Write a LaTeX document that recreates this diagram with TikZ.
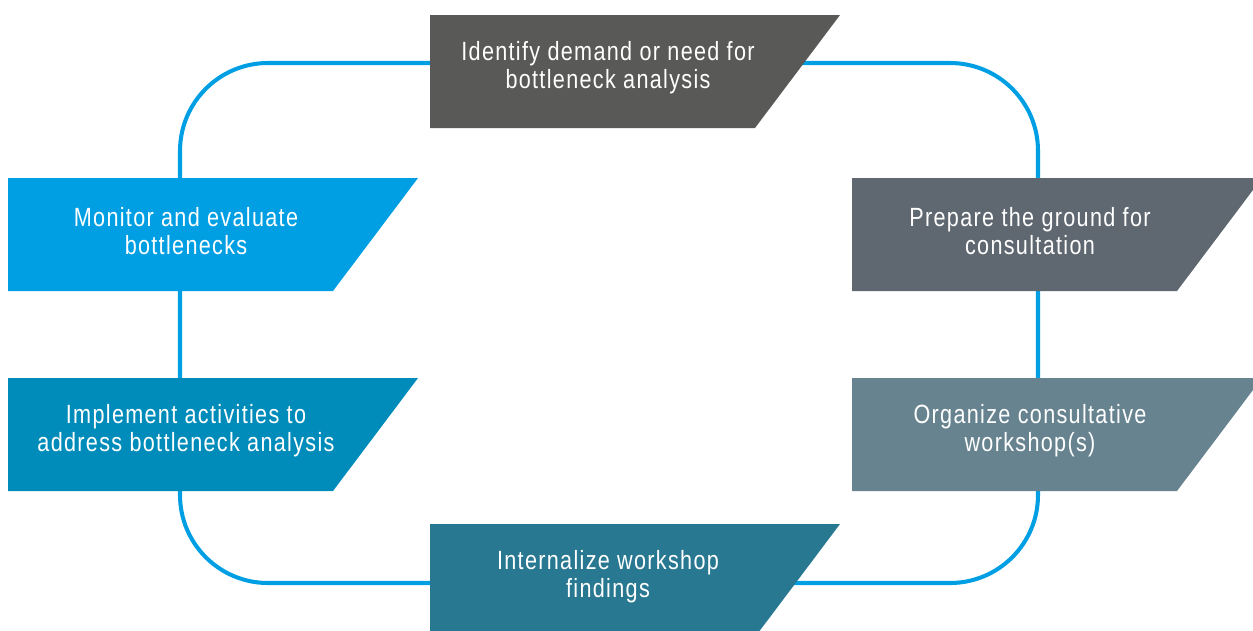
\documentclass[tikz,border=0pt]{standalone}
\usepackage{fontspec}
\setmainfont{Liberation Sans}[FakeStretch=0.82, LetterSpace=5]
\usetikzlibrary{positioning}

\definecolor{ringblue}{HTML}{009FE3}
\definecolor{stepdark}{HTML}{595958}
\definecolor{stepslate}{HTML}{5F6870}
\definecolor{stepgrey}{HTML}{66838F}
\definecolor{steppetrol}{HTML}{287891}
\definecolor{stepsea}{HTML}{008CBA}
\definecolor{stepsky}{HTML}{009FE3}

\tikzset{
  ring/.style={draw=ringblue, line width=2.3pt},
  steptext/.style={text=white, align=center, font=\fontsize{15}{16}\selectfont}
}

% slanted box with its label: name, left, top, colour, text
\newcommand{\cyclestep}[5]{%
  \fill[#4] (#2,#3) -- ++(410,0) -- ++(-85,113) -- ++(-325,0) -- cycle;
  \node[steptext] (#1) at (#2+178,#3+53) {#5};
}

\begin{document}
\begin{tikzpicture}[x=0.02cm, y=-0.02cm]
    \useasboundingbox (0,0) rectangle (1253,630);

    % the cycle behind the steps
    \draw[ring, rounded corners=1.76cm] (180,63) rectangle (1038,583);

    % steps of the analysis
    \cyclestep{identify}{430}{15}{stepdark}{Identify demand or need for\\bottleneck analysis}
    \cyclestep{prepare}{852}{178}{stepslate}{Prepare the ground for\\consultation}
    \cyclestep{organize}{852}{378}{stepgrey}{Organize consultative\\workshop(s)}
    \cyclestep{internalize}{430}{524}{steppetrol}{Internalize workshop\\findings}
    \cyclestep{implement}{8}{378}{stepsea}{Implement activities to\\address bottleneck analysis}
    \cyclestep{monitor}{8}{178}{stepsky}{Monitor and evaluate\\bottlenecks}
\end{tikzpicture}
\end{document}
